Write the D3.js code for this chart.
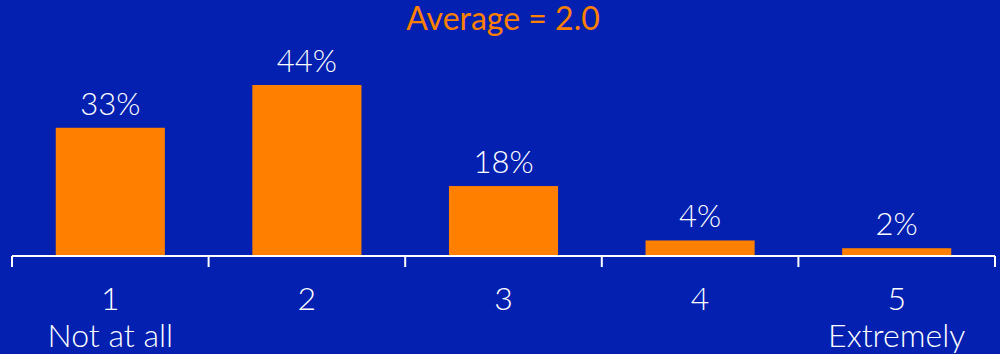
<!DOCTYPE html>
<html>
<head>
<meta charset="utf-8">
<script src="https://cdn.jsdelivr.net/npm/d3@7"></script>
<style>
  html, body { margin: 0; padding: 0; background: #0320b0; }
  svg { display: block; font-family: Lato, "Open Sans", sans-serif; }
  .light { font-family: "Lato Light", Lato, sans-serif; font-weight: 300; }
</style>
</head>
<body>
<div id="chart"></div>
<script>
"use strict";

// data
var categories = ["1", "2", "3", "4", "5"];
var subLabels = ["Not at all", "", "", "", "Extremely"];
var values = [33, 44, 18, 4, 2];
var title = "Average = 2.0";

var width = 1000, height = 354;
var baseY = 256;

var svg = d3.select("#chart").append("svg")
  .attr("width", width)
  .attr("height", height);

svg.append("rect")
  .attr("width", width).attr("height", height)
  .attr("fill", "#0320b0");

var x = d3.scaleBand()
  .domain(categories)
  .range([12, 995])
  .paddingInner(0.445)
  .paddingOuter(0.2225);

// px per percent ~3.88
var y = d3.scaleLinear()
  .domain([0, 44])
  .range([baseY, 85]);

// bars
svg.selectAll("rect.bar")
  .data(values)
  .enter().append("rect")
  .attr("class", "bar")
  .attr("x", function (d, i) { return x(categories[i]); })
  .attr("y", function (d) { return y(d); })
  .attr("width", x.bandwidth())
  .attr("height", function (d) { return baseY - y(d); })
  .attr("fill", "#ff8000");

// value labels
svg.selectAll("text.val")
  .data(values)
  .enter().append("text")
  .attr("class", "val light")
  .attr("x", function (d, i) { return x(categories[i]) + x.bandwidth() / 2; })
  .attr("y", function (d) { return y(d) - 13; })
  .attr("text-anchor", "middle")
  .attr("fill", "#ffffff")
  .style("font-size", "31px")
  .text(function (d) { return d + "%"; });

// axis: line + ticks between bands
var edges = categories.map(function (c) { return x(c) - x.step() * x.paddingInner() / 2; });
edges.push(995);
edges[0] = 12;

svg.append("line")
  .attr("x1", 12).attr("x2", 995)
  .attr("y1", baseY).attr("y2", baseY)
  .attr("stroke", "#ffffff").attr("stroke-width", 2);

svg.selectAll("line.tick")
  .data(edges)
  .enter().append("line")
  .attr("class", "tick")
  .attr("x1", function (d) { return d; })
  .attr("x2", function (d) { return d; })
  .attr("y1", baseY).attr("y2", 267)
  .attr("stroke", "#ffffff").attr("stroke-width", 2);

// category labels
var lab = svg.selectAll("text.cat")
  .data(categories)
  .enter().append("text")
  .attr("class", "cat light")
  .attr("x", function (d) { return x(d) + x.bandwidth() / 2; })
  .attr("y", 310)
  .attr("text-anchor", "middle")
  .attr("fill", "#ffffff")
  .style("font-size", "32px");

lab.append("tspan").text(function (d) { return d; });
lab.append("tspan")
  .attr("x", function (d) { return x(d) + x.bandwidth() / 2; })
  .attr("dy", 37)
  .text(function (d, i) { return subLabels[i]; });

// title
svg.append("text")
  .attr("x", 503)
  .attr("y", 30)
  .attr("text-anchor", "middle")
  .attr("fill", "#ff8000")
  .style("font-size", "32px")
  .text(title);
</script>
</body>
</html>
